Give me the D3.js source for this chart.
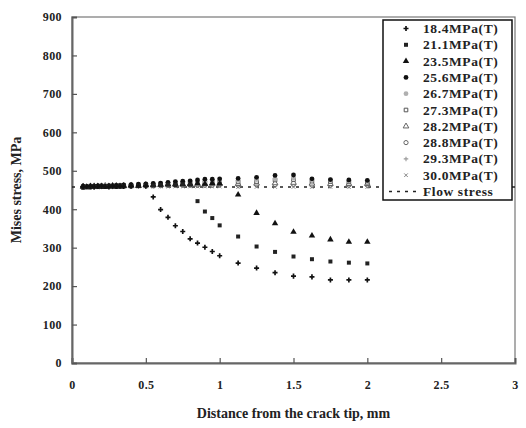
<!DOCTYPE html>
<html>
<head>
<meta charset="utf-8">
<script src="https://cdn.jsdelivr.net/npm/d3@7"></script>
<style>
  html, body { margin: 0; padding: 0; background: #fff; }
  svg { display: block; }
  text { font-family: "Liberation Serif", "Times New Roman", serif; font-weight: bold; fill: #222; }
</style>
</head>
<body>
<svg id="chart" width="526" height="428"></svg>
<script>
// Distance from the crack tip (mm) at which stresses were sampled
const xNear = [0.075, 0.1, 0.125, 0.15, 0.175, 0.2, 0.225, 0.25, 0.275, 0.3, 0.325, 0.35,
               0.4, 0.45, 0.5];
const xMid  = [0.55, 0.6, 0.65, 0.7, 0.75, 0.8, 0.85, 0.9, 0.95, 1.0];
const xFar  = [1.125, 1.25, 1.375, 1.5, 1.625, 1.75, 1.875, 2.0];
const xAll  = xNear.concat(xMid, xFar);

// Mises stress (MPa) for each applied stress level, in order of xAll
const s184 = [458, 459, 460, 458, 459, 460, 459, 458, 460, 459, 460, 459, 460, 461, 460,
              432, 399, 379, 357, 342, 323, 312, 301, 290, 279,
              260, 247, 235, 226, 224, 216, 216, 216];
const s211 = [457, 458, 459, 460, 458, 459, 460, 459, 460, 458, 460, 461, 460, 461, 462,
              462, 463, 464, 463, 465, 464, 421, 394, 377, 358,
              329, 303, 289, 277, 270, 264, 261, 259];
const s235 = [459, 458, 460, 459, 460, 459, 458, 460, 461, 460, 459, 461, 462, 461, 463,
              463, 464, 465, 466, 465, 466, 467, 466, 468, 467,
              438, 390, 363, 341, 331, 321, 315, 315];
const s256 = [460, 459, 458, 460, 461, 460, 459, 461, 460, 462, 461, 463, 464, 465, 466,
              467, 468, 470, 472, 473, 474, 476, 478, 478, 479,
              480, 483, 488, 489, 479, 477, 476, 475];
const s267 = [458, 460, 459, 461, 460, 459, 460, 461, 462, 461, 460, 462, 463, 464, 465,
              466, 467, 468, 469, 470, 471, 472, 473, 474, 474,
              475, 477, 479, 481, 477, 476, 475, 474];
const s273 = [457, 458, 460, 459, 460, 461, 459, 460, 461, 460, 462, 461, 462, 463, 463,
              464, 465, 466, 467, 468, 468, 469, 470, 470, 471,
              471, 472, 476, 477, 473, 472, 471, 470];
const s282 = [459, 457, 458, 460, 459, 460, 461, 459, 460, 461, 460, 460, 461, 461, 462,
              462, 463, 463, 464, 464, 465, 465, 466, 466, 466,
              466, 467, 468, 469, 467, 466, 466, 466];
const s288 = [458, 459, 457, 458, 460, 459, 460, 461, 459, 460, 461, 460, 460, 461, 461,
              461, 462, 462, 462, 463, 463, 463, 463, 463, 464,
              463, 464, 464, 465, 463, 463, 463, 463];
const s293 = [457, 458, 459, 457, 458, 460, 459, 460, 460, 459, 460, 460, 460, 460, 460,
              460, 460, 461, 461, 461, 461, 461, 461, 461, 461,
              460, 461, 461, 461, 460, 460, 460, 460];
const s300 = [456, 457, 458, 459, 457, 458, 459, 459, 458, 459, 459, 459, 459, 459, 459,
              459, 459, 459, 459, 459, 459, 459, 459, 459, 459,
              458, 458, 458, 458, 458, 458, 458, 458];
const flowStress = 458;

const seriesNames = ["18.4MPa(T)", "21.1MPa(T)", "23.5MPa(T)", "25.6MPa(T)", "26.7MPa(T)",
                     "27.3MPa(T)", "28.2MPa(T)", "28.8MPa(T)", "29.3MPa(T)", "30.0MPa(T)"];
const seriesValues = [s184, s211, s235, s256, s267, s273, s282, s288, s293, s300];

const xTicks = [0, 0.5, 1, 1.5, 2, 2.5, 3];
const xTickLabels = ["0", "0.5", "1", "1.5", "2", "2.5", "3"];
const yTicks = [0, 100, 200, 300, 400, 500, 600, 700, 800, 900];

// marker style for each series
const markers = [
  { type: d3.symbolCross,    size: 14, fill: "#111", stroke: "none" },
  { type: d3.symbolSquare,   size: 16, fill: "#222", stroke: "none" },
  { type: d3.symbolTriangle, size: 18, fill: "#111", stroke: "none" },
  { type: d3.symbolCircle,   size: 18, fill: "#111", stroke: "none" },
  { type: d3.symbolCircle,   size: 18, fill: "#b0b0b0", stroke: "none" },
  { type: d3.symbolSquare,   size: 13, fill: "#fff", stroke: "#555" },
  { type: d3.symbolTriangle, size: 14, fill: "#fff", stroke: "#666" },
  { type: d3.symbolCircle,   size: 14, fill: "#fff", stroke: "#666" },
  { type: "plus",            size: 4.5, fill: "none", stroke: "#999" },
  { type: "cross",           size: 3.6, fill: "none", stroke: "#888" }
];

const svg = d3.select("#chart");
const margin = { left: 72, right: 11, top: 17, bottom: 65 };
const W = 526, H = 428;
const x = d3.scaleLinear().domain([0, 3]).range([margin.left, W - margin.right]);
const y = d3.scaleLinear().domain([0, 900]).range([H - margin.bottom, margin.top]);

// plot frame
svg.append("rect")
  .attr("x", x(0)).attr("y", y(900))
  .attr("width", x(3) - x(0)).attr("height", y(0) - y(900))
  .attr("fill", "none").attr("stroke", "#777").attr("stroke-width", 1.2);

// axes with inward ticks
const xAxis = svg.append("g").attr("transform", `translate(0,${y(0)})`)
  .call(d3.axisBottom(x).tickValues(xTicks).tickSize(-5).tickPadding(17)
        .tickFormat((d, i) => xTickLabels[i]));
const yAxis = svg.append("g").attr("transform", `translate(${x(0)},0)`)
  .call(d3.axisLeft(y).tickValues(yTicks).tickSize(-5).tickPadding(10));
[xAxis, yAxis].forEach(g => {
  g.select(".domain").attr("stroke", "#666").attr("stroke-width", 2);
  g.selectAll(".tick line").attr("stroke", "#555").attr("stroke-width", 1.2);
  g.selectAll(".tick text").attr("font-size", 12)
    .style("font-family", "'Liberation Serif', serif").style("font-weight", "bold")
    .style("letter-spacing", "0.4px").attr("fill", "#222");
});

// axis titles
svg.append("text").attr("x", (x(0) + x(3)) / 2).attr("y", 418)
  .attr("text-anchor", "middle").attr("font-size", 14)
  .text("Distance from the crack tip, mm");
svg.append("text").attr("transform", `translate(21,${(y(0) + y(900)) / 2}) rotate(-90)`)
  .attr("text-anchor", "middle").attr("font-size", 14)
  .text("Mises stress, MPa");

// flow stress line
svg.append("line")
  .attr("x1", x(0)).attr("x2", x(3))
  .attr("y1", y(flowStress)).attr("y2", y(flowStress))
  .attr("stroke", "#222").attr("stroke-width", 1.5).attr("stroke-dasharray", "3,5");

function drawMarker(g, m) {
  if (m.type === "plus") {
    const s = m.size;
    g.append("path").attr("d", `M${-s / 2},0H${s / 2}M0,${-s / 2}V${s / 2}`)
      .attr("stroke", m.stroke).attr("stroke-width", 1.1).attr("fill", "none");
  } else if (m.type === "cross") {
    const s = m.size / 2;
    g.append("path").attr("d", `M${-s},${-s}L${s},${s}M${-s},${s}L${s},${-s}`)
      .attr("stroke", m.stroke).attr("stroke-width", 1).attr("fill", "none");
  } else {
    g.append("path").attr("d", d3.symbol().type(m.type).size(m.size)())
      .attr("fill", m.fill).attr("stroke", m.stroke).attr("stroke-width", 1);
  }
}

// data points, drawn from the last series to the first so the solid markers sit on top
const plot = svg.append("g");
for (let k = seriesValues.length - 1; k >= 0; k--) {
  const vals = seriesValues[k];
  const g = plot.append("g");
  vals.forEach((v, i) => {
    const pg = g.append("g").attr("transform", `translate(${x(xAll[i])},${y(v)})`);
    drawMarker(pg, markers[k]);
  });
}

// legend
const lg = svg.append("g");
const lx = 383, ly = 20, lw = 129, lh = 180, row = 16.3;
lg.append("rect").attr("x", lx).attr("y", ly).attr("width", lw).attr("height", lh)
  .attr("fill", "#fff").attr("stroke", "#111").attr("stroke-width", 1.5);
seriesNames.forEach((name, i) => {
  const cy = ly + 8.5 + i * row;
  const mg = lg.append("g").attr("transform", `translate(${lx + 23},${cy})`);
  drawMarker(mg, markers[i]);
  lg.append("text").attr("x", lx + 40).attr("y", cy + 4.5).attr("font-size", 13.5)
    .style("letter-spacing", "0.6px").text(name);
});
const fy = ly + 8.5 + seriesNames.length * row;
lg.append("line").attr("x1", lx + 6).attr("x2", lx + 38).attr("y1", fy).attr("y2", fy)
  .attr("stroke", "#222").attr("stroke-width", 1.5).attr("stroke-dasharray", "3,5");
lg.append("text").attr("x", lx + 40).attr("y", fy + 4.5).attr("font-size", 13.5)
  .style("letter-spacing", "0.6px").text("Flow stress");
</script>
</body>
</html>
